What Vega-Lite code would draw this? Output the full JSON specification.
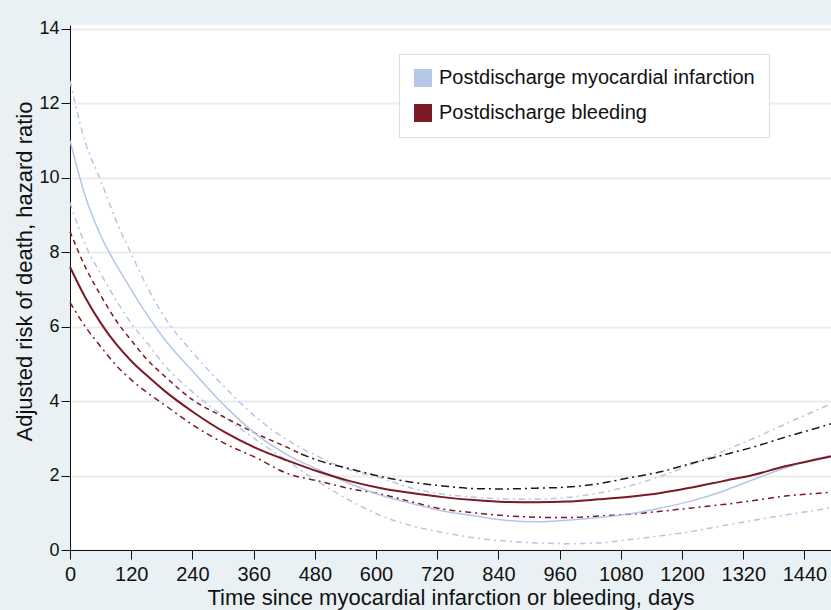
{
  "$schema": "https://vega.github.io/schema/vega-lite/v6.json",
  "autosize": "none",
  "width": 761,
  "height": 525,
  "padding": {"left": 70, "top": 25, "right": 0, "bottom": 60},
  "background": "#E9F1F4",
  "config": {
    "font": "Liberation Sans",
    "view": {"fill": "white", "stroke": null},
    "axis": {"labelColor": "#111111", "titleColor": "#111111", "domainColor": "#111111", "tickColor": "#111111", "titleFontWeight": "normal"}
  },
  "datasets": {
    "miEst": [
      {"day": 0, "hr": 11.0}, {"day": 30, "hr": 9.5}, {"day": 61, "hr": 8.42}, {"day": 91, "hr": 7.65}, {"day": 122, "hr": 6.95},
      {"day": 152, "hr": 6.3}, {"day": 183, "hr": 5.7}, {"day": 244, "hr": 4.75}, {"day": 305, "hr": 3.85}, {"day": 366, "hr": 3.1},
      {"day": 427, "hr": 2.55}, {"day": 488, "hr": 2.15}, {"day": 549, "hr": 1.78}, {"day": 610, "hr": 1.47}, {"day": 670, "hr": 1.25},
      {"day": 731, "hr": 1.05}, {"day": 792, "hr": 0.92}, {"day": 853, "hr": 0.8}, {"day": 914, "hr": 0.76}, {"day": 975, "hr": 0.8},
      {"day": 1036, "hr": 0.87}, {"day": 1097, "hr": 0.97}, {"day": 1158, "hr": 1.13}, {"day": 1219, "hr": 1.32}, {"day": 1280, "hr": 1.58},
      {"day": 1341, "hr": 1.9}, {"day": 1402, "hr": 2.2}, {"day": 1463, "hr": 2.45}, {"day": 1492, "hr": 2.54}
    ],
    "miHi": [
      {"day": 0, "hr": 12.6}, {"day": 30, "hr": 10.95}, {"day": 61, "hr": 9.9}, {"day": 91, "hr": 8.82}, {"day": 122, "hr": 7.9},
      {"day": 152, "hr": 7.05}, {"day": 183, "hr": 6.3}, {"day": 244, "hr": 5.25}, {"day": 305, "hr": 4.35}, {"day": 366, "hr": 3.55},
      {"day": 427, "hr": 2.95}, {"day": 488, "hr": 2.5}, {"day": 549, "hr": 2.15}, {"day": 610, "hr": 1.93}, {"day": 670, "hr": 1.66},
      {"day": 731, "hr": 1.5}, {"day": 792, "hr": 1.42}, {"day": 853, "hr": 1.37}, {"day": 914, "hr": 1.37}, {"day": 975, "hr": 1.41},
      {"day": 1036, "hr": 1.53}, {"day": 1097, "hr": 1.72}, {"day": 1158, "hr": 1.98}, {"day": 1219, "hr": 2.3}, {"day": 1280, "hr": 2.65},
      {"day": 1341, "hr": 3.0}, {"day": 1402, "hr": 3.38}, {"day": 1463, "hr": 3.75}, {"day": 1492, "hr": 3.93}
    ],
    "miLo": [
      {"day": 0, "hr": 9.33}, {"day": 30, "hr": 8.2}, {"day": 61, "hr": 7.4}, {"day": 91, "hr": 6.7}, {"day": 122, "hr": 6.05},
      {"day": 152, "hr": 5.55}, {"day": 183, "hr": 5.0}, {"day": 244, "hr": 4.2}, {"day": 305, "hr": 3.55}, {"day": 366, "hr": 2.95},
      {"day": 427, "hr": 2.38}, {"day": 488, "hr": 1.82}, {"day": 549, "hr": 1.33}, {"day": 610, "hr": 0.92}, {"day": 670, "hr": 0.65},
      {"day": 731, "hr": 0.47}, {"day": 792, "hr": 0.33}, {"day": 853, "hr": 0.24}, {"day": 914, "hr": 0.19}, {"day": 975, "hr": 0.17},
      {"day": 1036, "hr": 0.19}, {"day": 1097, "hr": 0.28}, {"day": 1158, "hr": 0.38}, {"day": 1219, "hr": 0.5}, {"day": 1280, "hr": 0.65},
      {"day": 1341, "hr": 0.8}, {"day": 1402, "hr": 0.94}, {"day": 1463, "hr": 1.07}, {"day": 1492, "hr": 1.14}
    ],
    "blEst": [
      {"day": 0, "hr": 7.6}, {"day": 30, "hr": 6.78}, {"day": 61, "hr": 6.08}, {"day": 91, "hr": 5.52}, {"day": 122, "hr": 5.05},
      {"day": 152, "hr": 4.67}, {"day": 183, "hr": 4.3}, {"day": 244, "hr": 3.68}, {"day": 305, "hr": 3.15}, {"day": 366, "hr": 2.73},
      {"day": 427, "hr": 2.4}, {"day": 488, "hr": 2.1}, {"day": 549, "hr": 1.85}, {"day": 610, "hr": 1.66}, {"day": 670, "hr": 1.53},
      {"day": 731, "hr": 1.42}, {"day": 792, "hr": 1.34}, {"day": 853, "hr": 1.29}, {"day": 914, "hr": 1.28}, {"day": 975, "hr": 1.3},
      {"day": 1036, "hr": 1.36}, {"day": 1097, "hr": 1.43}, {"day": 1158, "hr": 1.53}, {"day": 1219, "hr": 1.68}, {"day": 1280, "hr": 1.85},
      {"day": 1341, "hr": 2.02}, {"day": 1402, "hr": 2.25}, {"day": 1463, "hr": 2.43}, {"day": 1492, "hr": 2.51}
    ],
    "blHiEarly": [
      {"day": 0, "hr": 8.55}, {"day": 30, "hr": 7.6}, {"day": 61, "hr": 6.82}, {"day": 91, "hr": 6.15}, {"day": 122, "hr": 5.6},
      {"day": 152, "hr": 5.1}, {"day": 183, "hr": 4.7}, {"day": 244, "hr": 4.0}, {"day": 305, "hr": 3.55}, {"day": 366, "hr": 3.12},
      {"day": 427, "hr": 2.75}, {"day": 453, "hr": 2.58}
    ],
    "blHiLate": [
      {"day": 453, "hr": 2.58}, {"day": 488, "hr": 2.4}, {"day": 549, "hr": 2.18}, {"day": 610, "hr": 1.97}, {"day": 670, "hr": 1.82},
      {"day": 731, "hr": 1.72}, {"day": 792, "hr": 1.65}, {"day": 853, "hr": 1.64}, {"day": 914, "hr": 1.66}, {"day": 975, "hr": 1.69},
      {"day": 1036, "hr": 1.78}, {"day": 1097, "hr": 1.94}, {"day": 1158, "hr": 2.1}, {"day": 1219, "hr": 2.33}, {"day": 1280, "hr": 2.55},
      {"day": 1341, "hr": 2.77}, {"day": 1402, "hr": 3.03}, {"day": 1463, "hr": 3.27}, {"day": 1492, "hr": 3.39}
    ],
    "blLo": [
      {"day": 0, "hr": 6.65}, {"day": 30, "hr": 6.0}, {"day": 61, "hr": 5.45}, {"day": 91, "hr": 4.95}, {"day": 122, "hr": 4.55},
      {"day": 152, "hr": 4.22}, {"day": 183, "hr": 3.92}, {"day": 244, "hr": 3.33}, {"day": 305, "hr": 2.85}, {"day": 366, "hr": 2.47},
      {"day": 427, "hr": 2.05}, {"day": 488, "hr": 1.85}, {"day": 549, "hr": 1.65}, {"day": 610, "hr": 1.5}, {"day": 670, "hr": 1.29},
      {"day": 731, "hr": 1.1}, {"day": 792, "hr": 1.0}, {"day": 853, "hr": 0.92}, {"day": 914, "hr": 0.88}, {"day": 975, "hr": 0.87},
      {"day": 1036, "hr": 0.91}, {"day": 1097, "hr": 0.96}, {"day": 1158, "hr": 1.04}, {"day": 1219, "hr": 1.13}, {"day": 1280, "hr": 1.22},
      {"day": 1341, "hr": 1.33}, {"day": 1402, "hr": 1.45}, {"day": 1463, "hr": 1.52}, {"day": 1492, "hr": 1.55}
    ]
  },
  "encoding": {
    "x": {
      "field": "day", "type": "quantitative",
      "scale": {"domain": [0, 1492], "nice": false, "zero": false},
      "axis": {
        "title": "Time since myocardial infarction or bleeding, days",
        "values": [0, 120, 240, 360, 480, 600, 720, 840, 960, 1080, 1200, 1320, 1440],
        "format": "d",
        "grid": false, "tickSize": 9, "labelFontSize": 20, "labelPadding": 5,
        "titleFontSize": 22, "titlePadding": 3, "labelFlush": false, "labelOverlap": false
      }
    },
    "y": {
      "field": "hr", "type": "quantitative",
      "scale": {"domain": [0, 14.1], "nice": false},
      "axis": {
        "title": "Adjusted risk of death, hazard ratio",
        "values": [0, 2, 4, 6, 8, 10, 12, 14],
        "format": "d",
        "grid": true, "gridColor": "#EBEBEB", "gridWidth": 2,
        "tickSize": 9, "labelFontSize": 18, "labelPadding": 2,
        "titleFontSize": 22, "titleX": -46, "titleY": 246, "titleAlign": "center", "titleBaseline": "middle", "titleAngle": -90
      }
    }
  },
  "layer": [
    {
      "data": {"name": "miHi"},
      "mark": {"type": "line", "interpolate": "monotone", "strokeWidth": 1.5, "strokeDash": [6, 4, 2, 4]},
      "encoding": {"color": {"datum": "Postdischarge myocardial infarction"}}
    },
    {
      "data": {"name": "miLo"},
      "mark": {"type": "line", "interpolate": "monotone", "strokeWidth": 1.5, "strokeDash": [6, 4, 2, 4]},
      "encoding": {"color": {"datum": "Postdischarge myocardial infarction"}}
    },
    {
      "data": {"name": "blHiEarly"},
      "mark": {"type": "line", "interpolate": "monotone", "strokeWidth": 1.5, "strokeDash": [5, 4]},
      "encoding": {"color": {"datum": "Postdischarge bleeding"}}
    },
    {
      "data": {"name": "blHiLate"},
      "mark": {"type": "line", "interpolate": "monotone", "strokeWidth": 1.5, "strokeDash": [8, 4, 2, 4], "stroke": "#1A1A1A"},
      "encoding": {}
    },
    {
      "data": {"name": "blLo"},
      "mark": {"type": "line", "interpolate": "monotone", "strokeWidth": 1.5, "strokeDash": [6, 4, 2, 4]},
      "encoding": {"color": {"datum": "Postdischarge bleeding"}}
    },
    {
      "data": {"name": "miEst"},
      "mark": {"type": "line", "interpolate": "monotone", "strokeWidth": 1.5},
      "encoding": {"color": {"datum": "Postdischarge myocardial infarction"}}
    },
    {
      "data": {"name": "blEst"},
      "mark": {"type": "line", "interpolate": "monotone", "strokeWidth": 2},
      "encoding": {
        "color": {
          "datum": "Postdischarge bleeding",
          "scale": {"domain": ["Postdischarge myocardial infarction", "Postdischarge bleeding"], "range": ["#B4C7E7", "#7B1A25"]},
          "legend": {
            "title": null, "orient": "none", "legendX": 329, "legendY": 29,
            "fillColor": "white", "strokeColor": "#DDDDDD", "padding": 14,
            "symbolType": "square", "symbolSize": 324, "symbolStrokeWidth": 0,
            "labelFontSize": 20, "labelColor": "#111111", "labelOffset": 6, "rowPadding": 15, "labelLimit": 0,
            "encode": {"symbols": {"update": {"fill": {"scale": "color", "field": "value"}, "fillOpacity": {"value": 1}, "strokeWidth": {"value": 0}}}}
          }
        }
      }
    }
  ]
}
